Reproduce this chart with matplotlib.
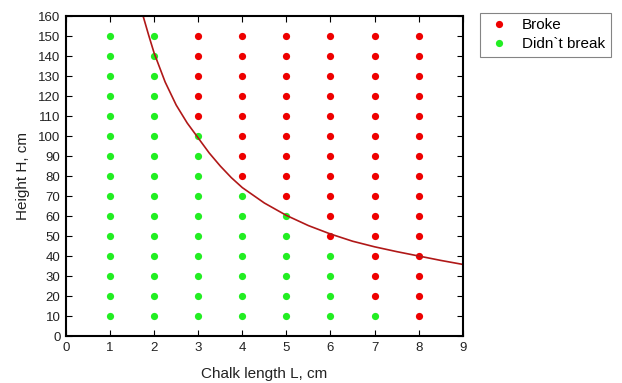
import numpy as np
import matplotlib.pyplot as plt

plt.rcParams['font.family'] = ['Liberation Sans', 'DejaVu Sans']

# chalk length L (cm) and drop height H (cm) grid
lengths = [1, 2, 3, 4, 5, 6, 7, 8]
heights = [10, 20, 30, 40, 50, 60, 70, 80, 90, 100, 110, 120, 130, 140, 150]
# lowest height at which the chalk broke for each length (None = never)
break_from = [None, None, 110, 80, 70, 50, 20, 10]

# boundary curve
curve_L = [1.75, 1.875, 2, 2.25, 2.5, 2.75, 3, 3.25, 3.5, 3.75, 4, 4.5, 5,
           5.5, 6, 6.5, 7, 7.5, 8, 8.5, 9]
curve_H = [160, 150.5, 141.5, 127, 115.5, 106.5, 99, 91.5, 85, 79.2, 74.2, 66.5, 60.3,
           55.2, 51, 47.4, 44.6, 42.2, 40, 37.8, 35.8]

broke_x, broke_y, ok_x, ok_y = [], [], [], []
for L, b in zip(lengths, break_from):
    for H in heights:
        if b is not None and H >= b:
            broke_x.append(L); broke_y.append(H)
        else:
            ok_x.append(L); ok_y.append(H)

fig = plt.figure(figsize=(6.22, 3.83), dpi=100)
ax = fig.add_axes([0.106, 0.1227, 0.638, 0.8355])

ax.plot(broke_x, broke_y, 'o', color='#ee0000', ms=5.2, mec='none', label='Broke')
ax.plot(ok_x, ok_y, 'o', color='#22ee22', ms=5.2, mec='none', label='Didn`t break')
ax.plot(curve_L, curve_H, '-', color='#b01818', lw=1.2)

ax.set_xlim(0, 9)
ax.set_ylim(0, 160)
ax.set_xticks(range(0, 10))
ax.set_yticks(range(0, 161, 10))
ax.tick_params(direction='in', top=True, right=True, labelsize=9.5, length=4, pad=4,
               labelcolor='#222222')
for s in ax.spines.values():
    s.set_linewidth(1.5)

ax.set_xlabel('Chalk length L, cm', fontsize=11, labelpad=10, color='#222222')
ax.set_ylabel('Height H, cm', fontsize=11, labelpad=6, color='#222222')

leg = fig.legend(loc='upper left', bbox_to_anchor=(0.772, 0.966), fontsize=11,
                 frameon=True, fancybox=False, edgecolor='#666666', borderaxespad=0,
                 handletextpad=0.7, borderpad=0.35, labelspacing=0.32, handlelength=1.7)
leg.get_frame().set_linewidth(0.8)

fig.savefig('out.png', dpi=100)
